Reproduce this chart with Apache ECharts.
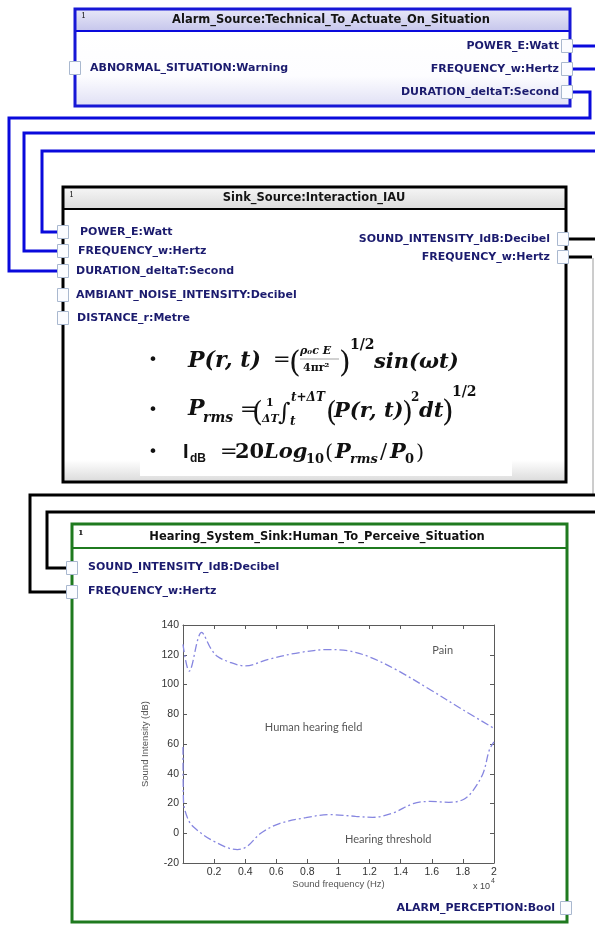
<!DOCTYPE html>
<html><head><meta charset="utf-8">
<script src="https://cdn.jsdelivr.net/npm/echarts/dist/echarts.min.js"></script>
<style>html,body{margin:0;padding:0;background:#fff}#c{width:595px;height:925px}</style>
</head><body><div id="c"></div>
<script>
// ---- data: human hearing field (frequency in x10^4 Hz, intensity in dB)
const freqUpper = [0, 0.04, 0.12, 0.18, 0.22, 0.3, 0.4, 0.55, 0.75, 0.94, 1.07, 1.2, 1.37, 1.59, 1.8, 2.0];
const dbUpper   = [127, 109, 135, 124, 119, 115, 112.5, 117, 121.5, 123.5, 122.5, 118.5, 110, 96.5, 83, 70.5];
const freqLower = [0, 0.003, 0.03, 0.07, 0.2, 0.35, 0.41, 0.5, 0.62, 0.79, 0.94, 1.11, 1.22, 1.35, 1.48, 1.59, 1.71, 1.8, 1.86, 1.93, 1.97, 2.0];
const dbLower   = [58, 22, 10, 4, -5.5, -11, -9, 0, 6.5, 10.5, 12.5, 11.4, 10.7, 13.6, 19.9, 21.4, 20.8, 22.5, 28, 40.4, 56, 61.5];
const noteText  = ['Pain', 'Human hearing field', 'Hearing threshold'];
const noteFreq  = [1.67, 0.84, 1.32];
const noteDb    = [123, 71, -4];
const yMin = -20, yMax = 140, yStep = 20;
const xMin = 0, xMax = 2, xStep = 0.2;

const chart = echarts.init(document.getElementById('c'), null, {renderer: 'canvas'});
const G = echarts.graphic;
const els = [];
function rect(x, y, w, h, style, z) { els.push({type: 'rect', shape: {x, y, width: w, height: h}, style, z: z || 10, silent: true}); }
function poly(points, stroke, lw, z) { els.push({type: 'polyline', shape: {points}, style: {stroke, lineWidth: lw, fill: null, lineJoin: 'miter'}, z: z || 5, silent: true}); }
function tx(text, x, y, font, fill, align, z) { els.push({type: 'text', x, y, style: {text, font, fill: fill || '#111', textAlign: align || 'left', textVerticalAlign: 'middle'}, z: z || 20, silent: true}); }
function port(cx, cy) { rect(cx - 5.5, cy - 6.5, 11, 13, {fill: '#fbfcff', stroke: '#a9b8cf', lineWidth: 1}, 30); }
function vgrad(stops) { return new G.LinearGradient(0, 0, 0, 1, stops.map(s => ({offset: s[0], color: s[1]}))); }

const PF = 'bold 11px "DejaVu Sans"';
const PC = '#1b1b6e';
const TF = 'bold 11.5px "DejaVu Sans"';

// ---- connectors
const BLUE = '#0a0adc';
poly([[573, 46], [595, 46]], BLUE, 3);
poly([[573, 69], [595, 69]], BLUE, 3);
poly([[573, 92], [590, 92], [590, 118], [9, 118], [9, 271], [57, 271]], BLUE, 3);
poly([[595, 133], [24, 133], [24, 251], [57, 251]], BLUE, 3);
poly([[595, 151], [42, 151], [42, 232], [57, 232]], BLUE, 3);
poly([[569, 239], [595, 239]], '#000', 3);
poly([[569, 257], [592, 257]], '#000', 3);
poly([[593, 258], [593, 495]], '#9a9a9a', 1);
poly([[595, 495], [30, 495], [30, 592], [66, 592]], '#000', 3);
poly([[595, 512], [47, 512], [47, 568], [66, 568]], '#000', 3);

// ---- box 1 : Alarm_Source
rect(75, 31, 495, 75, {fill: vgrad([[0, '#ffffff'], [0.6, '#fdfdff'], [1, '#e0e0f5']])}, 8);
rect(75, 9, 495, 22, {fill: vgrad([[0, '#e8e8f8'], [1, '#c6c6ec']])}, 8);
poly([[75, 31], [570, 31]], BLUE, 2, 12);
rect(75, 9, 495, 97, {fill: null, stroke: '#1717d6', lineWidth: 3}, 12);
tx('1', 81, 16, '8px "DejaVu Serif"', '#222');
tx('Alarm_Source:Technical_To_Actuate_On_Situation', 331, 20, TF, '#151515', 'center');
port(75, 68); tx('ABNORMAL_SITUATION:Warning', 90, 68, PF, PC);
port(567, 46); tx('POWER_E:Watt', 559, 46, PF, PC, 'right');
port(567, 69); tx('FREQUENCY_w:Hertz', 559, 69, PF, PC, 'right');
port(567, 92); tx('DURATION_deltaT:Second', 559, 92, PF, PC, 'right');

// ---- box 2 : Sink_Source
rect(63, 209, 503, 273, {fill: vgrad([[0, '#ffffff'], [0.92, '#ffffff'], [1, '#dadada']])}, 8);
rect(140, 330, 372, 146, {fill: '#ffffff'}, 9);
rect(63, 187, 503, 22, {fill: vgrad([[0, '#f6f6f6'], [1, '#dcdcdc']])}, 8);
poly([[63, 209], [566, 209]], '#000', 2, 12);
rect(63, 187, 503, 295, {fill: null, stroke: '#000', lineWidth: 3}, 12);
tx('1', 69, 195, '8px "DejaVu Serif"', '#222');
tx('Sink_Source:Interaction_IAU', 314, 198, TF, '#151515', 'center');
port(63, 232); tx('POWER_E:Watt', 80, 232, PF, PC);
port(63, 251); tx('FREQUENCY_w:Hertz', 78, 251, PF, PC);
port(63, 271); tx('DURATION_deltaT:Second', 76, 271, PF, PC);
port(63, 295); tx('AMBIANT_NOISE_INTENSITY:Decibel', 76, 295, PF, PC);
port(63, 318); tx('DISTANCE_r:Metre', 77, 318, PF, PC);
port(563, 239); tx('SOUND_INTENSITY_IdB:Decibel', 550, 239, PF, PC, 'right');
port(563, 257); tx('FREQUENCY_w:Hertz', 550, 257, PF, PC, 'right');

// ---- formulas
const FM = 'italic bold 21px "DejaVu Serif"';
const FM2 = 'italic bold 22px "DejaVu Serif"';
const FR = '21px "DejaVu Serif"';
const BIG = '30px "DejaVu Serif"';
const BUL = '16px "DejaVu Sans"';
const FC = '#111';
tx('•', 153, 361, BUL, FC, 'center');
tx('P(r, t)', 188, 361, FM2, FC);
tx('=', 273, 361, FR, FC);
tx('(', 289, 364, BIG, FC);
tx('ρ₀c E', 300, 351, 'italic bold 11px "DejaVu Serif"', FC);
poly([[300, 359], [339, 359]], '#666', 0.6, 20);
tx('4πr²', 303, 368, 'bold 11px "DejaVu Serif"', FC);
tx(')', 339, 364, BIG, FC);
tx('1/2', 350, 345, 'bold 14px "DejaVu Serif"', FC);
tx('sin(ωt)', 374, 363, FM, FC);

tx('•', 153, 411, BUL, FC, 'center');
tx('P', 188, 409, FM2, FC);
tx('rms', 203, 418, 'italic bold 14px "DejaVu Serif"', FC);
tx('=', 240, 411, FR, FC);
tx('(', 252, 414, '28px "DejaVu Serif"', FC);
tx('1', 266, 403, 'bold 11px "DejaVu Serif"', FC);
tx('ΔT', 262, 419, 'italic bold 11px "DejaVu Serif"', FC);
tx('∫', 278, 414, 'italic 24px "DejaVu Serif"', FC);
tx('t+ΔT', 291, 398, 'italic bold 12px "DejaVu Serif"', FC);
tx('t', 290, 422, 'italic bold 12px "DejaVu Serif"', FC);
tx('(', 326, 414, '28px "DejaVu Serif"', FC);
tx('P(r, t)', 334, 412, FM, FC);
tx(')', 402, 414, '28px "DejaVu Serif"', FC);
tx('2', 411, 398, 'bold 12px "DejaVu Serif"', FC);
tx('dt', 419, 412, FM, FC);
tx(')', 442, 413, BIG, FC);
tx('1/2', 452, 392, 'bold 14px "DejaVu Serif"', FC);

tx('•', 153, 453, BUL, FC, 'center');
tx('I', 183, 452, 'bold 20px "Liberation Sans"', FC);
tx('dB', 190, 459, 'bold 12px "Liberation Sans"', FC);
tx('=', 220, 453, FR, FC);
tx('20', 235, 453, 'bold 21px "DejaVu Serif"', FC);
tx('Log', 264, 453, FM, FC);
tx('10', 306, 460, 'bold 13px "DejaVu Serif"', FC);
tx('(', 325, 454, FR, FC);
tx('P', 335, 453, FM, FC);
tx('rms', 350, 460, 'italic bold 13px "DejaVu Serif"', FC);
tx('/', 380, 453, FR, FC);
tx('P', 390, 453, FM, FC);
tx('0', 405, 460, 'bold 13px "DejaVu Serif"', FC);
tx(')', 416, 454, FR, FC);

// ---- box 3 : Hearing_System_Sink
rect(72, 524, 495, 24, {fill: '#ffffff'}, 8);
poly([[72, 548], [567, 548]], '#1f7a1f', 2, 12);
rect(72, 524, 495, 398, {fill: null, stroke: '#1f7a1f', lineWidth: 3}, 12);
tx('1', 78, 533, 'bold 8px "DejaVu Serif"', '#111');
tx('Hearing_System_Sink:Human_To_Perceive_Situation', 317, 537, TF, '#111', 'center');
port(72, 568); tx('SOUND_INTENSITY_IdB:Decibel', 88, 567, PF, PC);
port(72, 592); tx('FREQUENCY_w:Hertz', 88, 591, PF, PC);
port(566, 908); tx('ALARM_PERCEPTION:Bool', 555, 908, PF, PC, 'right');

// x 10^4 multiplier
tx('x 10', 473, 887, '9px "Liberation Sans"', '#444');
tx('4', 491, 881, '7px "Liberation Sans"', '#444');

const axisCol = '#5a5a5a';
const labelFont = {color: '#333', fontSize: 10.5, fontFamily: '"Liberation Sans", Arial'};
function xFmt(v) { return v === 0 ? '' : String(+v.toFixed(1)); }

chart.setOption({
  animation: false,
  backgroundColor: '#fff',
  grid: {left: 183, right: 101, top: 625, bottom: 62, outerBoundsMode: 'none', containLabel: false},
  xAxis: [
    {type: 'value', position: 'bottom', min: xMin, max: xMax, interval: xStep,
     axisLine: {show: true, onZero: false, lineStyle: {color: axisCol, width: 1}},
     axisTick: {show: true, inside: true, length: 4, lineStyle: {color: axisCol}},
     axisLabel: Object.assign({formatter: xFmt, margin: 4, showMinLabel: true, showMaxLabel: true}, labelFont),
     splitLine: {show: false},
     name: 'Sound frequency (Hz)', nameLocation: 'middle', nameGap: 16,
     nameTextStyle: {color: '#555', fontSize: 9.5, fontFamily: '"Liberation Sans", Arial'}},
    {type: 'value', position: 'top', min: xMin, max: xMax, interval: xStep,
     axisLine: {show: true, onZero: false, lineStyle: {color: axisCol, width: 1}},
     axisTick: {show: true, inside: true, length: 4, lineStyle: {color: axisCol}},
     axisLabel: {show: false}, splitLine: {show: false}}
  ],
  yAxis: [
    {type: 'value', position: 'left', min: yMin, max: yMax, interval: yStep,
     axisLine: {show: true, onZero: false, lineStyle: {color: axisCol, width: 1}},
     axisTick: {show: true, inside: true, length: 4, lineStyle: {color: axisCol}},
     axisLabel: Object.assign({margin: 4}, labelFont),
     splitLine: {show: false},
     name: 'Sound Intensity (dB)', nameLocation: 'middle', nameGap: 22, nameRotate: 90,
     nameTextStyle: {color: '#555', fontSize: 9.5, fontFamily: '"Liberation Sans", Arial'}},
    {type: 'value', position: 'right', min: yMin, max: yMax, interval: yStep,
     axisLine: {show: true, onZero: false, lineStyle: {color: axisCol, width: 1}},
     axisTick: {show: true, inside: true, length: 4, lineStyle: {color: axisCol}},
     axisLabel: {show: false}, splitLine: {show: false}}
  ],
  series: [
    {type: 'line', name: 'Pain threshold', xAxisIndex: 0, yAxisIndex: 0, smooth: 0.35, symbol: 'none',
     data: freqUpper.map((f, i) => [f, dbUpper[i]]),
     lineStyle: {color: '#8686e0', width: 1.3, type: [8, 3, 2, 3]}, z: 3},
    {type: 'line', name: 'Hearing threshold', xAxisIndex: 0, yAxisIndex: 0, smooth: 0.35, symbol: 'none',
     data: freqLower.map((f, i) => [f, dbLower[i]]),
     lineStyle: {color: '#8686e0', width: 1.3, type: [8, 3, 2, 3]}, z: 3},
    {type: 'scatter', xAxisIndex: 0, yAxisIndex: 0, symbolSize: 0, silent: true,
     data: noteText.map((t, i) => [noteFreq[i], noteDb[i], t]),
     label: {show: true, position: 'inside', formatter: p => p.data[2], color: '#2a2a2a', fontSize: 11, fontFamily: 'Lato, "Open Sans", sans-serif'}}
  ],
  graphic: {elements: els}
});
</script></body></html>
